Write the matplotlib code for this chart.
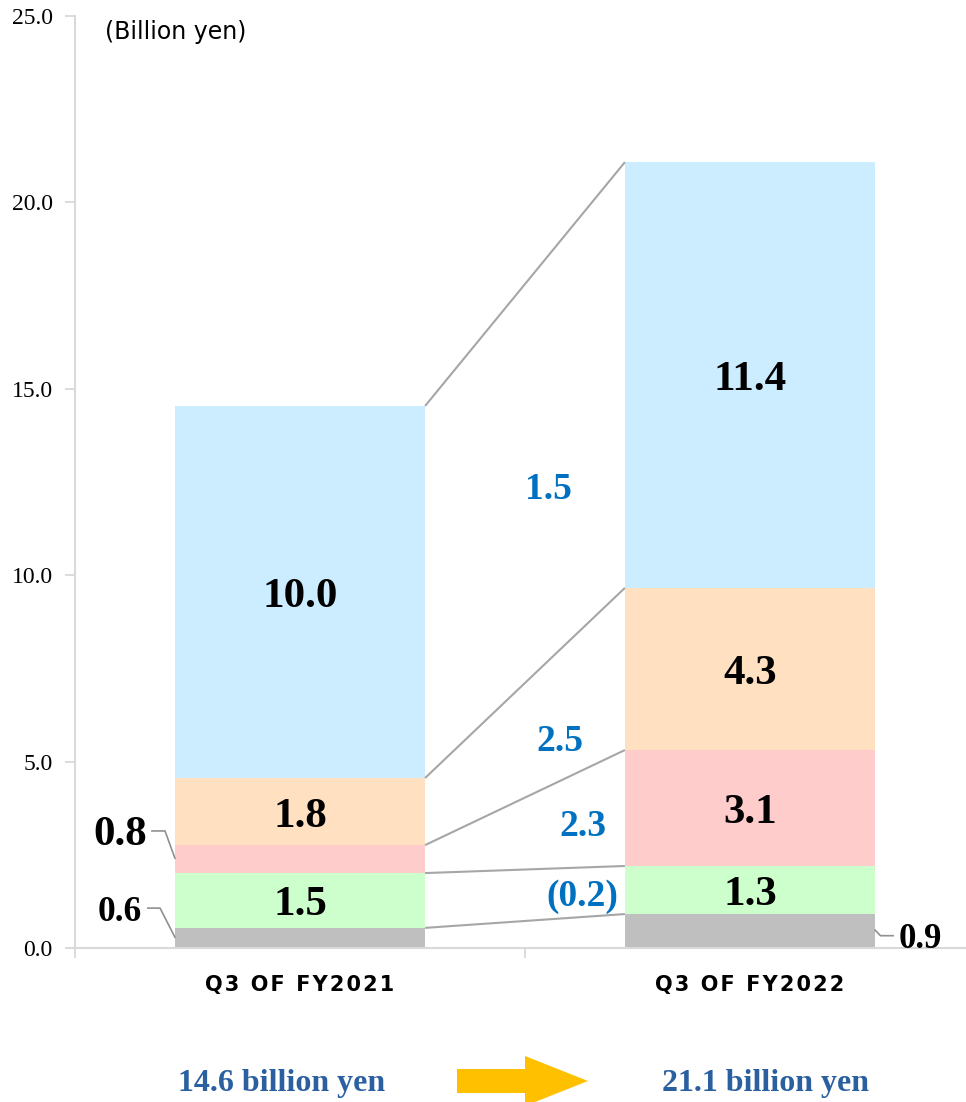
import matplotlib
matplotlib.use("Agg")
import matplotlib.pyplot as plt
from matplotlib.patches import Polygon
import numpy as np

# ---- data ----
categories = ["Q3 OF FY2021", "Q3 OF FY2022"]
segments = ["Other", "Seg B", "Seg C", "Seg D", "Seg E"]
fy2021 = [0.54, 1.47, 0.75, 1.80, 9.98]
fy2022 = [0.91, 1.29, 3.11, 4.35, 11.42]
labels2021 = ["0.6", "1.5", "0.8", "1.8", "10.0"]
labels2022 = ["0.9", "1.3", "3.1", "4.3", "11.4"]
diff_labels = ["(0.2)", "2.3", "2.5", "1.5"]
totals = ["14.6 billion yen", "21.1 billion yen"]
yticks = [0, 5, 10, 15, 20, 25]

colors = ["#BFBFBF", "#CCFFCC", "#FFCCCC", "#FFE0C1", "#CCECFF"]

W, H = 966, 1102
fig = plt.figure(figsize=(W / 100, H / 100), dpi=100)
ax = fig.add_axes([75 / W, 154 / H, 900 / W, 932 / H])
PX = 25 / 932  # data units per pixel in y

x = np.arange(len(categories))
bw = 0.556
data = np.array([fy2021, fy2022])
bottoms = np.zeros(2)
for i in range(len(segments)):
    ax.bar(x, data[:, i], bw, bottom=bottoms, color=colors[i], linewidth=0, zorder=2)
    bottoms = bottoms + data[:, i]

cum = np.cumsum(data, axis=1)
# connector lines between stack tops
for i in range(len(segments)):
    ax.plot([x[0] + bw / 2, x[1] - bw / 2], [cum[0, i], cum[1, i]],
            color="#A6A6A6", lw=1.5, zorder=3, solid_capstyle="butt")

serif = "Liberation Serif"
# big inner labels
for j, labs in enumerate([labels2021, labels2022]):
    for i in range(len(segments)):
        if j == 0 and i in (0, 2):
            continue
        if j == 1 and i == 0:
            continue
        mid = cum[j, i] - data[j, i] / 2
        ax.text(x[j], mid - 5 * PX, labs[i], ha="center", va="center", fontsize=31,
                fontweight="bold", family=serif, color="black", zorder=4)

# outside labels with leader lines
lc = "#909090"
ax.plot([-0.329, -0.300, -0.278], [3.14, 3.14, 2.41], color=lc, lw=1.2, zorder=4)
ax.text(-0.340, 3.14 - 4 * PX, labels2021[2], ha="right", va="center", fontsize=31,
        fontweight="bold", family=serif)
ax.plot([-0.338, -0.311, -0.278], [1.07, 1.07, 0.29], color=lc, lw=1.2, zorder=4)
ax.text(-0.352, 1.07 - 4 * PX, labels2021[0], ha="right", va="center", fontsize=25.5,
        fontweight="bold", family=serif)
ax.plot([1.278, 1.290, 1.318], [0.48, 0.33, 0.33], color=lc, lw=1.2, zorder=4,
        clip_on=False)
ax.text(1.330, 0.33 - 4 * PX, labels2022[0], ha="left", va="center", fontsize=25,
        fontweight="bold", family=serif, clip_on=False)

# blue difference labels
blue = "#0070C0"
diff_pos = [(0.627, 1.45), (0.629, 3.33), (0.578, 5.63), (0.551, 12.37)]
for lab, (px, py) in zip(diff_labels, diff_pos):
    ax.text(px, py - 3 * PX, lab, ha="center", va="center", fontsize=27,
            fontweight="bold", family=serif, color=blue, zorder=4)

# axes styling
ax.set_xlim(-0.5, 1.5)
ax.set_ylim(0, 25)
ax.set_yticks(yticks)
ax.set_yticklabels([f"{v:.1f}" for v in yticks], family=serif, fontsize=17)
ax.set_xticks([-0.5, 0.5, 1.5])
ax.set_xticklabels([])
ax.tick_params(axis="y", length=7, width=1.3, color="#D9D9D9", pad=9)
ax.tick_params(axis="x", length=7, width=1.3, color="#D9D9D9")
for s in ["top", "right"]:
    ax.spines[s].set_visible(False)
for s in ["left", "bottom"]:
    ax.spines[s].set_color("#D9D9D9")
    ax.spines[s].set_linewidth(1.5)
ax.spines["bottom"].set_bounds(-0.5 - 7 / 450, 1.5)

# category labels (letter-spaced)
hs = "\u200a"
for j, c in enumerate(categories):
    spaced = hs.join(list(c))
    ax.text(x[j], -1.0, spaced, ha="center", va="center", fontsize=15,
            fontweight="bold", family="DejaVu Sans", transform=ax.transData,
            clip_on=False)

fig.text(105 / W, 1 - 32 / H, "(Billion yen)", ha="left", va="center",
         fontsize=17, family="DejaVu Sans")

# totals and arrow
tc = "#2A5FA0"
fig.text(282 / W, 1 - 1083 / H, totals[0], ha="center", va="center", fontsize=23,
         fontweight="bold", family=serif, color=tc)
fig.text(766 / W, 1 - 1083 / H, totals[1], ha="center", va="center", fontsize=23,
         fontweight="bold", family=serif, color=tc)
arrow_px = [(457, 1069), (525, 1069), (525, 1056), (588, 1081), (525, 1106),
            (525, 1093), (457, 1093)]
arrow = Polygon([(px / W, 1 - py / H) for px, py in arrow_px], closed=True,
                transform=fig.transFigure, facecolor="#FFC000", edgecolor="none")
fig.add_artist(arrow)

fig.savefig("out.png", dpi=100)
